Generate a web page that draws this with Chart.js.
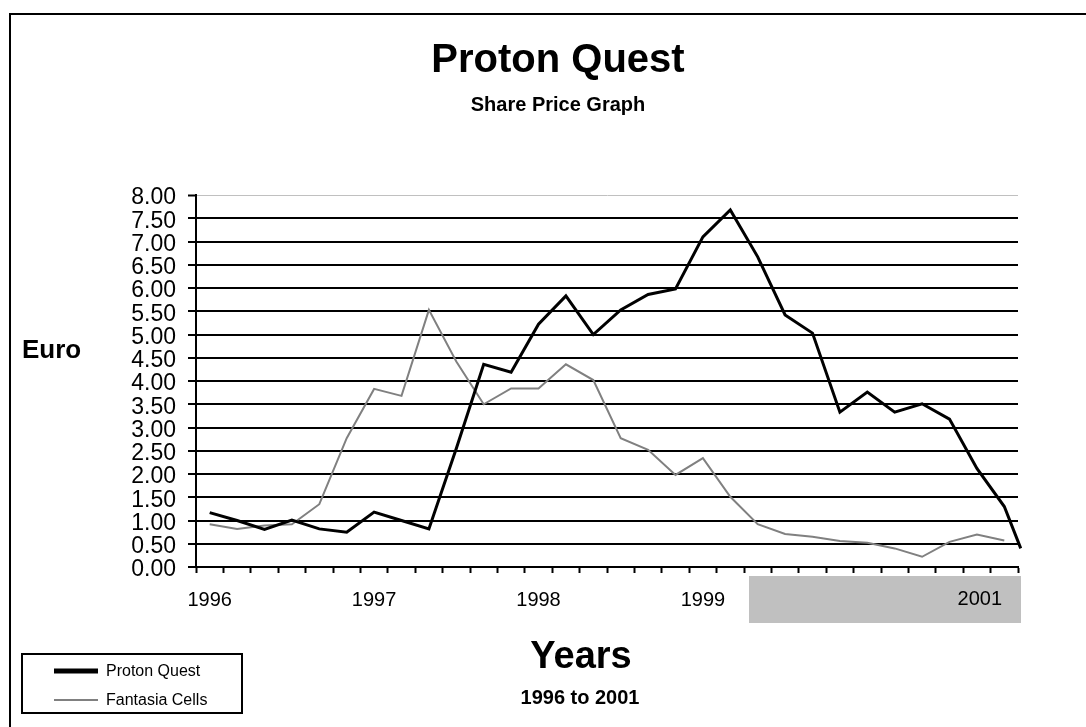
<!DOCTYPE html>
<html>
<head>
<meta charset="utf-8">
<title>Proton Quest - Share Price Graph</title>
<script src="https://cdn.jsdelivr.net/npm/chart.js@4.4.1/dist/chart.umd.min.js"></script>
<style>
    html, body { margin: 0; padding: 0; background: #fff; }
    canvas { display: block; }
</style>
</head>
<body>
<canvas id="chart" width="1086" height="727"></canvas>
<script>
/* =========================================
   DATA
   ========================================= */
const FONT = "'Liberation Sans', Arial, sans-serif";

// two-monthly readings, share price in Euro
const yearLabels = ['1996', '1997', '1998', '1999'];
const yearIndex = [0, 6, 12, 18];

const protonQuest = [
    1.17, 1.00, 0.81, 1.01, 0.82, 0.75, 1.18, 1.00, 0.82, 2.55,
    4.36, 4.19, 5.22, 5.83, 5.00, 5.53, 5.86, 5.98, 7.10, 7.68,
    6.67, 5.42, 5.03, 3.33, 3.76, 3.33, 3.51, 3.18, 2.12, 1.30
];
const fantasiaCells = [
    0.92, 0.82, 0.89, 0.92, 1.35, 2.77, 3.83, 3.68, 5.53, 4.42,
    3.50, 3.84, 3.84, 4.36, 4.02, 2.77, 2.52, 1.98, 2.34, 1.51,
    0.92, 0.71, 0.65, 0.56, 0.52, 0.40, 0.22, 0.54, 0.70, 0.57
];
// Proton Quest's line runs on a little past the last period
const protonTailPos = 29.6;
const protonTailValue = 0.40;

const boxLabel = '2001';

const PERIODS = protonQuest.length;

function toPoints(values) {
    return values.map((v, i) => ({ x: i, y: v }));
}

/* =========================================
   DECORATION: frame, titles, legend, 2001 box
   ========================================= */
const decorations = {
    id: 'decorations',
    afterDraw(chart) {
        const ctx = chart.ctx;
        const area = chart.chartArea;
        ctx.save();

        // outer frame, only top and left edges show
        ctx.strokeStyle = '#000';
        ctx.lineWidth = 2;
        ctx.beginPath();
        ctx.moveTo(10, chart.height);
        ctx.lineTo(10, 14);
        ctx.lineTo(chart.width, 14);
        ctx.stroke();

        // titles
        ctx.fillStyle = '#000';
        ctx.textAlign = 'center';
        ctx.textBaseline = 'alphabetic';
        ctx.font = `bold 40px ${FONT}`;
        ctx.fillText('Proton Quest', 558, 72);
        ctx.font = `bold 20px ${FONT}`;
        ctx.fillText('Share Price Graph', 558, 111);

        ctx.font = `bold 38px ${FONT}`;
        ctx.fillText('Years', 581, 668);
        ctx.font = `bold 20px ${FONT}`;
        ctx.fillText('1996 to 2001', 580, 704);

        ctx.textAlign = 'left';
        ctx.font = `bold 26px ${FONT}`;
        ctx.fillText('Euro', 22, 358);

        // grey text box over the end of the x axis
        const boxLeft = 749, boxTop = area.bottom + 9;
        const boxRight = area.right + 3, boxBottom = area.bottom + 56;
        ctx.fillStyle = '#c0c0c0';
        ctx.fillRect(boxLeft, boxTop, boxRight - boxLeft, boxBottom - boxTop);
        ctx.fillStyle = '#000';
        ctx.textAlign = 'right';
        ctx.textBaseline = 'middle';
        ctx.font = `20px ${FONT}`;
        ctx.fillText(boxLabel, boxRight - 19, area.bottom + 32);

        // legend
        const lx = 22, ly = 654, lw = 220, lh = 59;
        ctx.fillStyle = '#fff';
        ctx.fillRect(lx, ly, lw, lh);
        ctx.strokeStyle = '#000';
        ctx.lineWidth = 2;
        ctx.strokeRect(lx, ly, lw, lh);
        ctx.textAlign = 'left';
        ctx.font = `16px ${FONT}`;
        chart.data.datasets.forEach((ds, i) => {
            const y = ly + 17 + i * 29;
            ctx.strokeStyle = ds.borderColor;
            ctx.lineWidth = i === 0 ? 5 : 2;
            ctx.beginPath();
            ctx.moveTo(lx + 32, y);
            ctx.lineTo(lx + 76, y);
            ctx.stroke();
            ctx.fillStyle = '#000';
            ctx.fillText(ds.label, lx + 84, y + 1);
        });

        ctx.restore();
    }
};

/* =========================================
   CHART
   ========================================= */
new Chart(document.getElementById('chart'), {
    type: 'line',
    data: {
        datasets: [
            {
                label: 'Proton Quest',
                data: [...toPoints(protonQuest), { x: protonTailPos, y: protonTailValue }],
                borderColor: '#000000',
                borderWidth: 3,
                pointRadius: 0,
                tension: 0,
                clip: false
            },
            {
                label: 'Fantasia Cells',
                data: toPoints(fantasiaCells),
                borderColor: '#808080',
                borderWidth: 2,
                pointRadius: 0,
                tension: 0
            }
        ]
    },
    options: {
        responsive: false,
        animation: false,
        events: [],
        layout: { padding: { left: 126, right: 68, top: 195, bottom: 100 } },
        plugins: {
            legend: { display: false },
            tooltip: { enabled: false },
            title: { display: false }
        },
        scales: {
            x: {
                type: 'linear',
                min: -0.5,
                max: PERIODS - 0.5,
                afterBuildTicks(scale) {
                    // tick marks between periods, labels under the year start periods
                    const t = [];
                    for (let i = 0; i <= PERIODS; i++) t.push({ value: i - 0.5 });
                    yearIndex.forEach(v => t.push({ value: v }));
                    t.sort((p, q) => p.value - q.value);
                    scale.ticks = t;
                },
                afterFit(scale) { scale.height = 60; },
                border: { display: true, color: '#000', width: 2 },
                grid: {
                    drawOnChartArea: false,
                    drawTicks: true,
                    tickLength: 6,
                    tickWidth: 2,
                    tickColor: c => (c.tick && Number.isInteger(c.tick.value)) ? 'rgba(0,0,0,0)' : '#000'
                },
                ticks: {
                    autoSkip: false,
                    maxRotation: 0,
                    minRotation: 0,
                    padding: 15,
                    color: '#000',
                    font: { family: FONT, size: 20 },
                    callback: v => {
                        const k = yearIndex.indexOf(v);
                        return k >= 0 ? yearLabels[k] : '';
                    }
                }
            },
            y: {
                min: 0,
                max: 8,
                afterFit(scale) { scale.width = 70; },
                border: { display: true, color: '#000', width: 2 },
                grid: {
                    color: c => (c.tick && c.tick.value === 8) ? '#c0c0c0' : '#000',
                    lineWidth: c => (c.tick && c.tick.value === 8) ? 1 : 2,
                    tickColor: '#000',
                    tickWidth: 2,
                    tickLength: 8
                },
                ticks: {
                    stepSize: 0.5,
                    autoSkip: false,
                    padding: 12,
                    labelOffset: 3,
                    color: '#000',
                    font: { family: FONT, size: 23 },
                    callback: v => v.toFixed(2)
                }
            }
        }
    },
    plugins: [decorations]
});
</script>
</body>
</html>
